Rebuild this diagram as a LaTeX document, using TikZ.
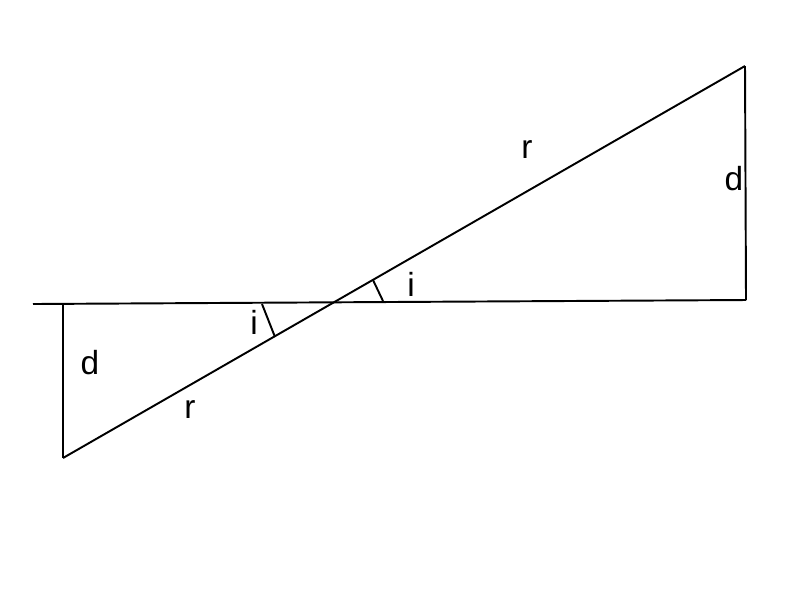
\documentclass[tikz,border=0pt]{standalone}
\usepackage{fontspec}
\setmainfont{Liberation Sans}
\usepackage{tikz}
\tikzstyle{edge} = [line width=1.1pt, black]
\tikzstyle{tick} = [line width=1.1pt, black]
\tikzstyle{lbl} = [inner sep=0pt, font=\fontsize{19}{22}\selectfont]

\begin{document}
\begin{tikzpicture}
				[x=0.02cm, y=-0.02cm]
				\useasboundingbox (0,0) rectangle (800,600);

				\coordinate (axisL) at (33,304);
				\coordinate (axisR) at (746,300);
				\coordinate (footL) at (63,304);
				\coordinate (lowL) at (63,458);
				\coordinate (highR) at (745,66);
				\coordinate (tickLa) at (262,304);
				\coordinate (tickLb) at (275,337);
				\coordinate (tickRa) at (373,280);
				\coordinate (tickRb) at (383,301);

				\draw [edge] (axisL) -- (axisR);
				\draw [edge] (footL) -- (lowL);
				\draw [edge] (lowL) -- (highR);
				\draw [edge] (highR) -- (axisR);
				\draw [tick] (tickLa) -- (tickLb);
				\draw [tick] (tickRa) -- (tickRb);

				\node (rtop) [lbl] at (527,150) {r};
				\node (dright) [lbl] at (734,179) {d};
				\node (iright) [lbl] at (411,284) {i};
				\node (ileft) [lbl] at (254,322) {i};
				\node (dleft) [lbl] at (90,363) {d};
				\node (rbot) [lbl] at (190,410) {r};
			\end{tikzpicture}
\end{document}
